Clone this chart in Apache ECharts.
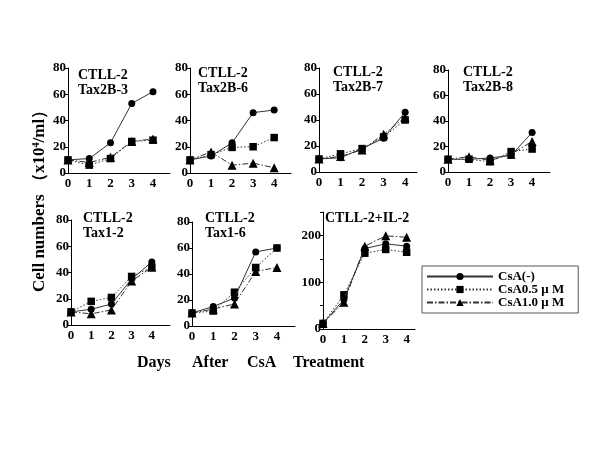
<!DOCTYPE html>
<html><head><meta charset="utf-8">
<script src="https://cdn.jsdelivr.net/npm/echarts@6/dist/echarts.min.js"></script>
<style>html,body{margin:0;padding:0;background:#fff}#c{width:600px;height:450px}</style>
</head><body><div id="c"></div>
<script>
const days = [0, 1, 2, 3, 4];
const seriesNames = ['CsA(-)', 'CsA0.5 \u03bc M', 'CsA1.0 \u03bc M'];
const panelTitles = ['CTLL-2\nTax2B-3', 'CTLL-2\nTax2B-6', 'CTLL-2\nTax2B-7', 'CTLL-2\nTax2B-8', 'CTLL-2\nTax1-2', 'CTLL-2\nTax1-6', 'CTLL-2+IL-2'];
const yTicksSmall = [0, 20, 40, 60, 80];
const yTicksIL2 = [0, 100, 200];

const tax2b3_none = [10, 11, 23, 53, 62];
const tax2b3_05 = [10, 6, 11, 24, 25];
const tax2b3_10 = [10, 8, 12, 24, 26];

const tax2b6_none = [10, 13, 23, 46, 48];
const tax2b6_05 = [10, 14, 19.5, 20, 27];
const tax2b6_10 = [10, 16, 6, 7.5, 4];

const tax2b7_none = [10, 11, 18, 26, 46];
const tax2b7_05 = [10, 14, 18, 27, 40];
const tax2b7_10 = [10, 12, 17, 29, 42];

const tax2b8_none = [10, 10, 11, 13, 31];
const tax2b8_05 = [10, 10, 8, 16, 18];
const tax2b8_10 = [10, 12, 9, 14, 24];

const tax12_none = [10, 12, 16, 35, 48];
const tax12_05 = [10, 18, 21, 37, 44];
const tax12_10 = [10, 8.5, 11.5, 33.5, 44];

const tax16_none = [10, 15, 21.5, 57, 60];
const tax16_05 = [10, 11.5, 26, 45, 60];
const tax16_10 = [10, 13, 17, 42, 45];

const il2_none = [12, 63, 172, 182, 177];
const il2_05 = [12, 73, 162, 170, 164];
const il2_10 = [12, 57, 177, 199, 196];

const panelData = [
  [tax2b3_none, tax2b3_05, tax2b3_10],
  [tax2b6_none, tax2b6_05, tax2b6_10],
  [tax2b7_none, tax2b7_05, tax2b7_10],
  [tax2b8_none, tax2b8_05, tax2b8_10],
  [tax12_none, tax12_05, tax12_10],
  [tax16_none, tax16_05, tax16_10],
  [il2_none, il2_05, il2_10]
];

// layout: [left, top, width, height, xMax, yMax, yInterval, titleX, titleY]
const layout = [
  [68, 68, 102, 105, 4.8, 80, 20, 78, 68],
  [190, 68, 101, 105, 4.8, 80, 20, 198, 66],
  [319, 68, 98, 104, 4.55, 80, 20, 333, 65],
  [448, 70, 102, 102, 4.85, 80, 20, 463, 65],
  [71, 220, 99, 105, 4.9, 80, 20, 83, 211],
  [192, 222, 103, 104, 4.85, 80, 20, 205, 211],
  [323, 212, 92, 117, 4.4, 250, 50, 325, 211]
];

const FONT = '"Liberation Serif","Times New Roman",serif';
const symbols = ['circle', 'rect', 'triangle'];
const symSizes = [7, 7.5, 9];
const lineTypes = ['solid', [1.5, 2], [6, 2, 1.5, 2]];
const lineColors = ['#333', '#333', '#333'];

const grids = [], xAxes = [], yAxes = [], series = [], graphics = [];
panelData.forEach((pd, i) => {
  const L = layout[i];
  grids.push({left: L[0], top: L[1], width: L[2], height: L[3], containLabel: false});
  const ticks = (i === 6) ? yTicksIL2 : yTicksSmall;
  xAxes.push({
    gridIndex: i, type: 'value', min: 0, max: L[4], interval: 1,
    axisLine: {lineStyle: {color: '#000', width: 1}},
    axisTick: {show: false}, splitLine: {show: false},
    axisLabel: {color: '#000', fontFamily: FONT, fontWeight: 'bold', fontSize: 13, margin: 4,
      formatter: v => (days.indexOf(v) >= 0 ? String(v) : '')}
  });
  yAxes.push({
    gridIndex: i, type: 'value', min: 0, max: L[5], interval: L[6],
    axisLine: {show: true, lineStyle: {color: '#000', width: 1}},
    axisTick: {show: true, length: 3, lineStyle: {color: '#000'}}, splitLine: {show: false},
    axisLabel: {color: '#000', fontFamily: FONT, fontWeight: 'bold', fontSize: 13, margin: 2,
      formatter: v => (ticks.indexOf(v) >= 0 ? String(v) : '')}
  });
  pd.forEach((vals, k) => {
    series.push({
      name: seriesNames[k], type: 'line', xAxisIndex: i, yAxisIndex: i,
      data: days.map((d, j) => [d, vals[j]]),
      symbol: symbols[k], symbolSize: symSizes[k], showSymbol: true,
      itemStyle: {color: '#000'},
      lineStyle: {color: lineColors[k], width: 1, type: lineTypes[k]},
      animation: false, z: 3 - k
    });
  });
  graphics.push({
    type: 'text', left: L[7], top: L[8],
    style: {text: panelTitles[i], font: 'bold 14px ' + FONT, fill: '#000', lineHeight: 15}
  });
});

graphics.push({
  type: 'text', x: 40, y: 197, rotation: Math.PI / 2, originX: 0, originY: 0,
  style: {text: 'Cell numbers \uff08x10\u2074/ml\uff09', font: 'bold 17px ' + FONT, fill: '#000', align: 'center', verticalAlign: 'middle'}
});
[['Days', 137], ['After', 192], ['CsA', 247], ['Treatment', 293]].forEach(w => {
  graphics.push({type: 'text', left: w[1], top: 355, style: {text: w[0], font: 'bold 16px ' + FONT, fill: '#000'}});
});

const chart = echarts.init(document.getElementById('c'), null, {renderer: 'canvas'});
chart.setOption({
  animation: false,
  backgroundColor: '#fff',
  grid: grids, xAxis: xAxes, yAxis: yAxes, series: series,
  legend: {
    orient: 'vertical', left: 422, top: 266, data: seriesNames,
    itemWidth: 66, itemHeight: 9, itemGap: 0, padding: [4, 14, 4, 4],
    borderColor: '#555', borderWidth: 1, borderRadius: 0,
    textStyle: {fontFamily: FONT, fontWeight: 'bold', fontSize: 13, color: '#000', lineHeight: 13}
  },
  graphic: graphics
});
</script></body></html>
